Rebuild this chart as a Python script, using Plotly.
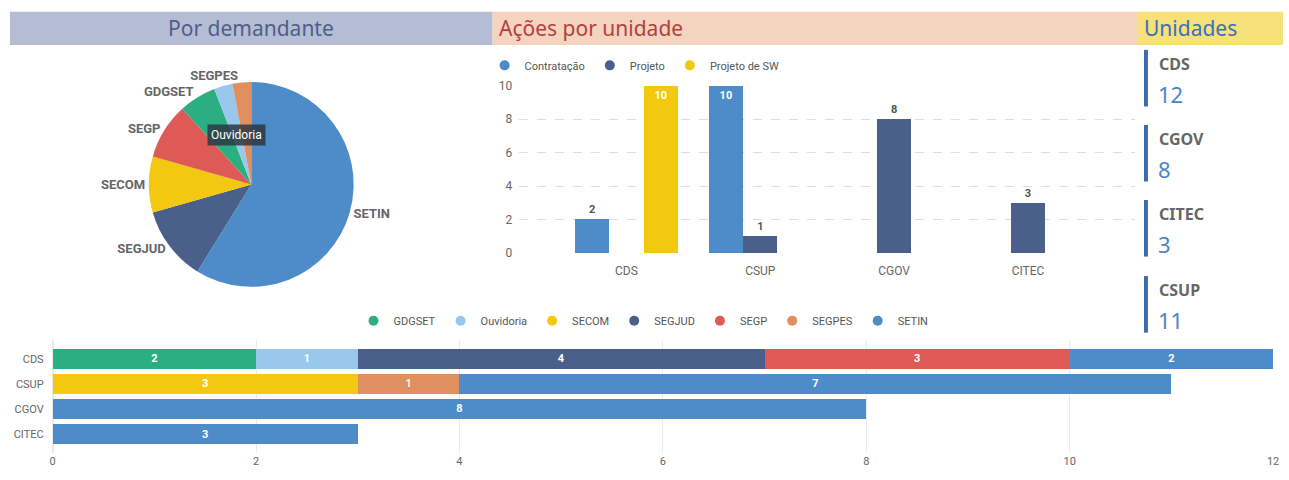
import plotly.graph_objects as go

W, H = 1289, 480
def px(x):
    return x / W
def py(y):
    return 1 - y / H

# ---------------- data ----------------
demandantes = ["SETIN", "SEGJUD", "SECOM", "SEGP", "GDGSET", "Ouvidoria", "SEGPES"]
demandante_totais = [20, 4, 3, 3, 2, 1, 1]

unidades = ["CDS", "CSUP", "CGOV", "CITEC"]
contratacao = [2, 10, None, None]
projeto = [None, 1, 8, 3]
projeto_sw = [10, None, None, None]

stack_series = ["GDGSET", "Ouvidoria", "SECOM", "SEGJUD", "SEGP", "SEGPES", "SETIN"]
gdgset = [2, None, None, None]
ouvidoria = [1, None, None, None]
secom = [None, 3, None, None]
segjud = [4, None, None, None]
segp = [3, None, None, None]
segpes = [None, 1, None, None]
setin = [2, 7, 8, 3]

card_units = ["CDS", "CGOV", "CITEC", "CSUP"]
card_totals = [12, 8, 3, 11]

# ---------------- colours ----------------
C = {
    "SETIN": "#4E8BC9", "SEGJUD": "#4B5F8B", "SECOM": "#F2C811", "SEGP": "#DD5A57",
    "GDGSET": "#2BAF82", "Ouvidoria": "#9AC7EC", "SEGPES": "#E08F5F",
    "Contratação": "#4E8BC9", "Projeto": "#4B5F8B", "Projeto de SW": "#F2C811",
}
FONT = "Roboto"
GRAY = "#666666"

fig = go.Figure()

# ---------------- pie ----------------
cx, cy, r = 250, 183, 105
pie_text = [d if d != "Ouvidoria" else "" for d in demandantes]
fig.add_trace(go.Pie(
    labels=demandantes, values=demandante_totais, text=pie_text,
    texttemplate="%{text}", textposition="outside", sort=False,
    direction="clockwise", rotation=0,
    marker=dict(colors=[C[d] for d in demandantes], line=dict(width=0)),
    outsidetextfont=dict(family=FONT, size=13, color="#666666", weight="bold"),
    domain=dict(x=[px(cx - r), px(cx + r)], y=[py(cy + r), py(cy - r)]),
    showlegend=False, hoverinfo="label+value",
))

# ---------------- grouped column chart ----------------
col_series = [("Contratação", contratacao), ("Projeto", projeto), ("Projeto de SW", projeto_sw)]
for i, (name, vals) in enumerate(col_series):
    tpos = ["inside" if (v is not None and v >= 10) else "outside" for v in vals]
    fig.add_trace(go.Bar(
        x=unidades, y=vals, name=name, offsetgroup=str(i),
        marker=dict(color=C[name], line=dict(width=0)),
        text=[("" if v is None else str(v)) for v in vals], textposition=tpos,
        insidetextanchor="end",
        insidetextfont=dict(family=FONT, size=11, color="white", weight="bold"),
        outsidetextfont=dict(family=FONT, size=11, color="#555555", weight="bold"),
        cliponaxis=False, xaxis="x", yaxis="y", showlegend=False,
    ))
    fig.add_trace(go.Scatter(
        x=[None], y=[None], mode="markers", name=name,
        marker=dict(color=C[name], size=10, symbol="circle"),
        xaxis="x", yaxis="y", legend="legend",
    ))

# ---------------- stacked bar chart ----------------
stack_vals = [gdgset, ouvidoria, secom, segjud, segp, segpes, setin]
for name, vals in zip(stack_series, stack_vals):
    fig.add_trace(go.Bar(
        y=unidades, x=vals, name=name, orientation="h",
        marker=dict(color=C[name], line=dict(width=0)),
        text=[("" if v is None else str(v)) for v in vals], textposition="inside",
        insidetextanchor="middle",
        insidetextfont=dict(family=FONT, size=11, color="white", weight="bold"),
        xaxis="x2", yaxis="y2", showlegend=False,
    ))
    fig.add_trace(go.Scatter(
        x=[None], y=[None], mode="markers", name=name,
        marker=dict(color=C[name], size=10, symbol="circle"),
        xaxis="x2", yaxis="y2", legend="legend2",
    ))

# ---------------- headers & cards ----------------
shapes = [
    dict(type="rect", xref="paper", yref="paper", x0=px(7), x1=px(493), y0=py(40), y1=py(6),
         fillcolor="#B4BDD3", line=dict(width=0), layer="below"),
    dict(type="rect", xref="paper", yref="paper", x0=px(493), x1=px(1143), y0=py(40), y1=py(6),
         fillcolor="#F4D4BF", line=dict(width=0), layer="below"),
    dict(type="rect", xref="paper", yref="paper", x0=px(1143), x1=px(1289), y0=py(40), y1=py(6),
         fillcolor="#F5E07A", line=dict(width=0), layer="below"),
]
annotations = [
    dict(text="Por demandante", x=px(250), y=py(23), xref="paper", yref="paper",
         xanchor="center", yanchor="middle", showarrow=False,
         font=dict(family="Noto Sans", size=21, color="#4F5E8C")),
    dict(text="Ações por unidade", x=px(497), y=py(23), xref="paper", yref="paper",
         xanchor="left", yanchor="middle", showarrow=False,
         font=dict(family="Noto Sans", size=21, color="#B3403F")),
    dict(text="Unidades", x=px(1147), y=py(23), xref="paper", yref="paper",
         xanchor="left", yanchor="middle", showarrow=False,
         font=dict(family="Noto Sans", size=21, color="#3A6FBF")),
    dict(text="Ouvidoria", x=px(235), y=py(132), xref="paper", yref="paper",
         xanchor="center", yanchor="middle", showarrow=False,
         bgcolor="rgba(45,55,66,0.85)", borderpad=3,
         font=dict(family=FONT, size=12, color="white")),
]
card_tops = [45, 122, 199, 277]
for top, name, total in zip(card_tops, card_units, card_totals):
    shapes.append(dict(type="rect", xref="paper", yref="paper", x0=px(1149), x1=px(1153),
                       y0=py(top + 58), y1=py(top), fillcolor="#3B6BAD", line=dict(width=0)))
    annotations.append(dict(text=f"<b>{name}</b>", x=px(1162), y=py(top + 14), xref="paper", yref="paper",
                            xanchor="left", yanchor="middle", showarrow=False,
                            font=dict(family="Noto Sans", size=16, color="#666666")))
    annotations.append(dict(text=str(total), x=px(1161), y=py(top + 45), xref="paper", yref="paper",
                            xanchor="left", yanchor="middle", showarrow=False,
                            font=dict(family="Noto Sans", size=22, color="#4A86C8")))

fig.update_layout(
    autosize=True, margin=dict(l=0, r=0, t=0, b=0, pad=0),
    paper_bgcolor="white", plot_bgcolor="white",
    barmode="stack", bargap=0.23, bargroupgap=0,
    font=dict(family=FONT, color=GRAY),
    shapes=shapes, annotations=annotations,
    xaxis=dict(domain=[px(520), px(1140)], range=[-0.8, 3.8], type="category",
               categoryorder="array", categoryarray=unidades,
               showgrid=False, zeroline=False, showline=False, ticks="", ticklabelstandoff=8,
               tickfont=dict(family=FONT, size=12, color=GRAY), anchor="y"),
    yaxis=dict(domain=[py(254), py(81)], range=[-0.05, 10.05], dtick=2, tick0=0,
               showgrid=True, gridcolor="#DDDDDD", griddash="dash", gridwidth=1,
               zeroline=False, showline=False, ticks="", ticklabelstandoff=6,
               tickfont=dict(family=FONT, size=12, color=GRAY), anchor="x"),
    xaxis2=dict(domain=[px(50), px(1279)], range=[0, 12], dtick=2,
                showgrid=True, gridcolor="#EAEAEA", zeroline=True, zerolinecolor="#EAEAEA",
                showline=False, ticks="",
                tickfont=dict(family=FONT, size=11, color=GRAY), anchor="y2"),
    yaxis2=dict(domain=[py(458), py(343)], range=[3.74, -0.74], type="category",
                categoryorder="array", categoryarray=unidades,
                showgrid=False, zeroline=False, showline=False, ticks="", ticklabelstandoff=8,
                tickfont=dict(family=FONT, size=11, color=GRAY), anchor="x2"),
    legend=dict(orientation="h", x=px(485), y=py(46), xanchor="left", yanchor="top",
                font=dict(family=FONT, size=11, color="#555555"), bgcolor="rgba(0,0,0,0)",
                itemwidth=30, tracegroupgap=0, traceorder="normal"),
    legend2=dict(orientation="h", x=px(645), y=py(308), xanchor="center", yanchor="top",
                 font=dict(family=FONT, size=11, color="#555555"), bgcolor="rgba(0,0,0,0)",
                 itemwidth=30, traceorder="normal"),
)

fig.write_html(
    "out.html",
    default_width="100vw", default_height="100vh",
    config={"displayModeBar": False, "responsive": True},
    post_script=("document.documentElement.style.margin='0';document.documentElement.style.padding='0';"
                 "document.body.style.margin='0';document.body.style.padding='0';"
                 "document.documentElement.style.overflow='hidden';document.body.style.overflow='hidden';"
                 "window.dispatchEvent(new Event('resize'));"),
)
